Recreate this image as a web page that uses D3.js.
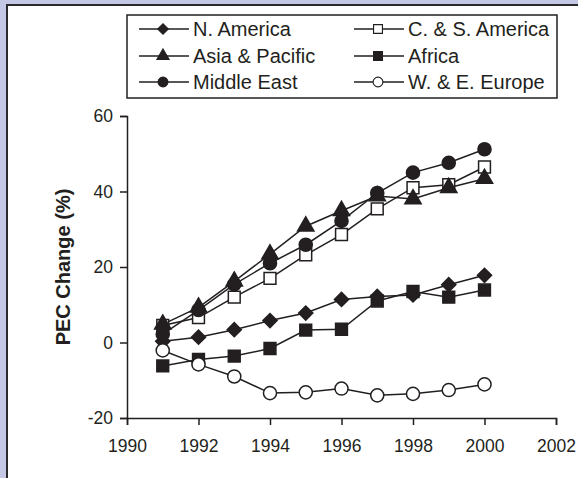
<!DOCTYPE html>
<html>
<head>
<meta charset="utf-8">
<script src="https://cdn.jsdelivr.net/npm/d3@7"></script>
<style>
  html, body { margin: 0; padding: 0; background: #c4c8e4; }
  svg { display: block; }
</style>
</head>
<body>
<div id="chart"><svg></svg></div>
<script>
// chart size
var width = 578;
var height = 478;

// data
var years = [1991, 1992, 1993, 1994, 1995, 1996, 1997, 1998, 1999, 2000];
var nAmerica = [0.3, 1.4, 3.4, 5.8, 7.8, 11.4, 12.2, 12.6, 15.3, 17.8];
var csAmerica = [4.5, 6.6, 12.0, 17.0, 23.2, 28.6, 35.4, 41.0, 41.8, 46.5];
var asiaPacific = [4.8, 9.3, 16.2, 23.4, 30.8, 34.9, 38.8, 38.0, 41.0, 43.4];
var africa = [-6.2, -4.5, -3.6, -1.6, 3.3, 3.5, 11.0, 13.5, 12.0, 13.9];
var middleEast = [2.2, 8.6, 15.4, 21.0, 25.9, 32.2, 39.6, 45.0, 47.6, 51.2];
var weEurope = [-2.1, -5.8, -9.0, -13.4, -13.2, -12.2, -14.0, -13.6, -12.6, -11.1];
var xTicks = [1990, 1992, 1994, 1996, 1998, 2000, 2002];
var yTicks = [-20, 0, 20, 40, 60];

var series = [
  {name: "N. America", values: nAmerica, shape: "diamond", fill: true},
  {name: "C. & S. America", values: csAmerica, shape: "square", fill: false},
  {name: "Asia & Pacific", values: asiaPacific, shape: "triangle", fill: true},
  {name: "Africa", values: africa, shape: "square", fill: true},
  {name: "Middle East", values: middleEast, shape: "circle", fill: true},
  {name: "W. & E. Europe", values: weEurope, shape: "circle", fill: false}
];

var ink = "#231f20";
var font = "'Liberation Sans', Arial, sans-serif";

var xscale = d3.scaleLinear().domain([1990, 2002]).range([127, 556]);
var yscale = d3.scaleLinear().domain([-20, 60]).range([418, 116]);

var svg = d3.select("#chart").select("svg")
    .attr("width", width)
    .attr("height", height);

// white panel
svg.append("rect")
    .attr("x", 7).attr("y", 5)
    .attr("width", width + 10).attr("height", height + 10)
    .attr("fill", "#fff")
    .attr("stroke", "#2a2a2e")
    .attr("stroke-width", 2);

function symbolPath(shape) {
  if (shape == "diamond") return d3.symbol().type(d3.symbolSquare).size(100)();
  if (shape == "square") return d3.symbol().type(d3.symbolSquare).size(140)();
  if (shape == "triangle") return d3.symbol().type(d3.symbolTriangle).size(115)();
  return d3.symbol().type(d3.symbolCircle).size(135)();
}
function symbolTransform(shape, x, y) {
  return "translate(" + x + "," + y + ")" + (shape == "diamond" ? " rotate(45)" : "");
}

// axes
var yaxis = d3.axisLeft(yscale).tickValues(yTicks).tickFormat(String)
    .tickSize(7).tickSizeOuter(7).tickPadding(7);
var xaxis = d3.axisBottom(xscale).tickValues(xTicks).tickFormat(String)
    .tickSize(7).tickSizeOuter(7).tickPadding(15);

var gy = svg.append("g")
    .attr("transform", "translate(127,0)")
    .call(yaxis);
var gx = svg.append("g")
    .attr("transform", "translate(0,418)")
    .call(xaxis);

[gx, gy].forEach(function(g) {
  g.attr("font-family", font).attr("font-size", 17.5);
  g.selectAll("path, line").attr("stroke", ink).attr("stroke-width", 1.5);
  g.selectAll("text").attr("fill", ink);
});

svg.append("text")
    .attr("transform", "translate(70,267) rotate(-90)")
    .attr("text-anchor", "middle")
    .attr("font-family", font)
    .attr("font-size", 20)
    .attr("font-weight", "bold")
    .attr("fill", ink)
    .text("PEC Change (%)");

// lines and markers
var line = d3.line()
    .x(function(d, i) { return xscale(years[i]); })
    .y(function(d) { return yscale(d); });

series.forEach(function(s) {
  svg.append("path")
      .attr("d", line(s.values))
      .attr("fill", "none")
      .attr("stroke", ink)
      .attr("stroke-width", 1.5);
});

series.forEach(function(s) {
  svg.append("g").selectAll("path")
      .data(s.values)
      .enter().append("path")
      .attr("d", symbolPath(s.shape))
      .attr("transform", function(d, i) { return symbolTransform(s.shape, xscale(years[i]), yscale(d)); })
      .attr("fill", s.fill ? ink : "#fff")
      .attr("stroke", ink)
      .attr("stroke-width", 1.5);
});

// legend
var legend = svg.append("g");
legend.append("rect")
    .attr("x", 127).attr("y", 15)
    .attr("width", 430).attr("height", 83)
    .attr("fill", "#fff")
    .attr("stroke", ink)
    .attr("stroke-width", 1.5);

var colX = [139, 354];
var rowY = [29, 56, 82];
series.forEach(function(s, i) {
  var x0 = colX[i % 2];
  var y0 = rowY[Math.floor(i / 2)];
  var lg = legend.append("g");
  lg.append("line")
      .attr("x1", x0).attr("x2", x0 + 50)
      .attr("y1", y0).attr("y2", y0)
      .attr("stroke", ink).attr("stroke-width", 1.5);
  lg.append("path")
      .attr("d", symbolPath(s.shape))
      .attr("transform", symbolTransform(s.shape, x0 + 24, y0) + " scale(0.75)")
      .attr("fill", s.fill ? ink : "#fff")
      .attr("stroke", ink)
      .attr("stroke-width", 1.5);
  lg.append("text")
      .attr("x", x0 + 54).attr("y", y0)
      .attr("dy", "0.35em")
      .attr("font-family", font)
      .attr("font-size", 20)
      .attr("fill", ink)
      .text(s.name);
});
</script>
</body>
</html>
